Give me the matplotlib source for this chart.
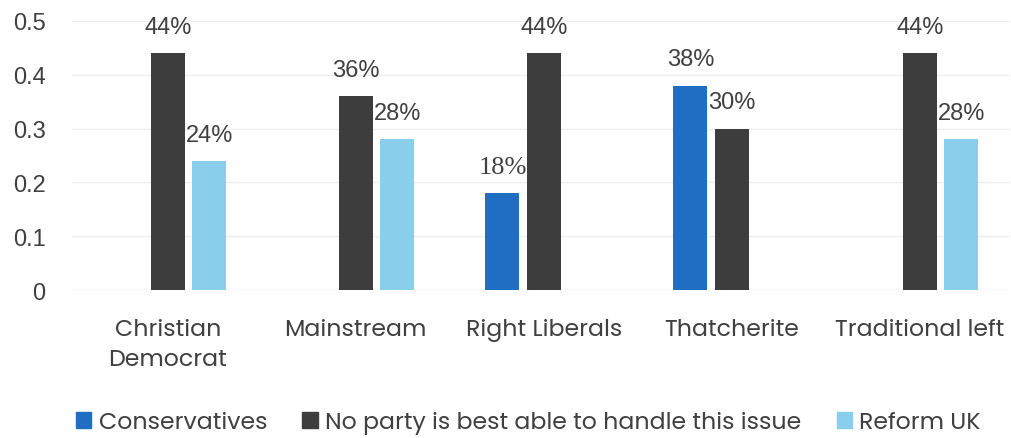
import numpy as np
import matplotlib.pyplot as plt
from matplotlib.patches import Patch

categories = ["Christian\nDemocrat", "Mainstream", "Right Liberals", "Thatcherite", "Traditional left"]
conservatives = [0, 0, 0.18, 0.38, 0]
no_party = [0.44, 0.36, 0.44, 0.30, 0.44]
reform_uk = [0.24, 0.28, 0, 0, 0.28]
series_names = ["Conservatives", "No party is best able to handle this issue", "Reform UK"]
colors = ["#1F6EC4", "#3D3D3D", "#89CFEB"]
yticks = [0, 0.1, 0.2, 0.3, 0.4, 0.5]

txt = "#404040"
lab_font = ["Poppins", "Open Sans", "DejaVu Sans"]

fig = plt.figure(figsize=(10.12, 4.39), dpi=100)
ax = fig.add_axes([0.071, 0.337, 0.927, 0.613])

x = np.arange(len(categories))
w = 0.18
off = 0.22
for i, vals in enumerate([conservatives, no_party, reform_uk]):
    pos = x + (i - 1) * off
    ax.bar(pos, vals, width=w, color=colors[i], zorder=3)
    for p, v in zip(pos, vals):
        if v > 0:
            serif = i == 0 and v < 0.2
            ax.annotate(f"{v:.0%}", (p, v), xytext=(0, 11), textcoords="offset points",
                        ha="center", va="bottom", fontsize=19 if serif else 17, color=txt,
                        family="Liberation Serif" if serif else "Liberation Sans",
                        annotation_clip=False)

ax.set_xlim(-0.51, 4.48)
ax.set_ylim(0, 0.5)
ax.set_yticks(yticks)
ax.set_yticklabels([f"{t:g}" for t in yticks], family="Liberation Sans", fontsize=17, color=txt)
ax.yaxis.grid(True, color="#EEEEEE", linewidth=1, zorder=0)
ax.tick_params(axis="both", length=0)
ax.tick_params(axis="y", pad=19)
ax.set_xticks(x)
ax.set_xticklabels(categories, family=lab_font, fontsize=17, color=txt, linespacing=1.45)
ax.tick_params(axis="x", pad=20)
for s in ax.spines.values():
    s.set_visible(False)

handles = [Patch(color=c) for c in colors]
fig.legend(handles, series_names, loc="center", bbox_to_anchor=(0.522, 0.035), ncol=3,
           frameon=False, prop={"family": lab_font, "size": 17}, labelcolor=txt,
           handlelength=0.65, handleheight=0.65, handletextpad=0.3, columnspacing=1.5)

fig.savefig("out.png", dpi=100)
